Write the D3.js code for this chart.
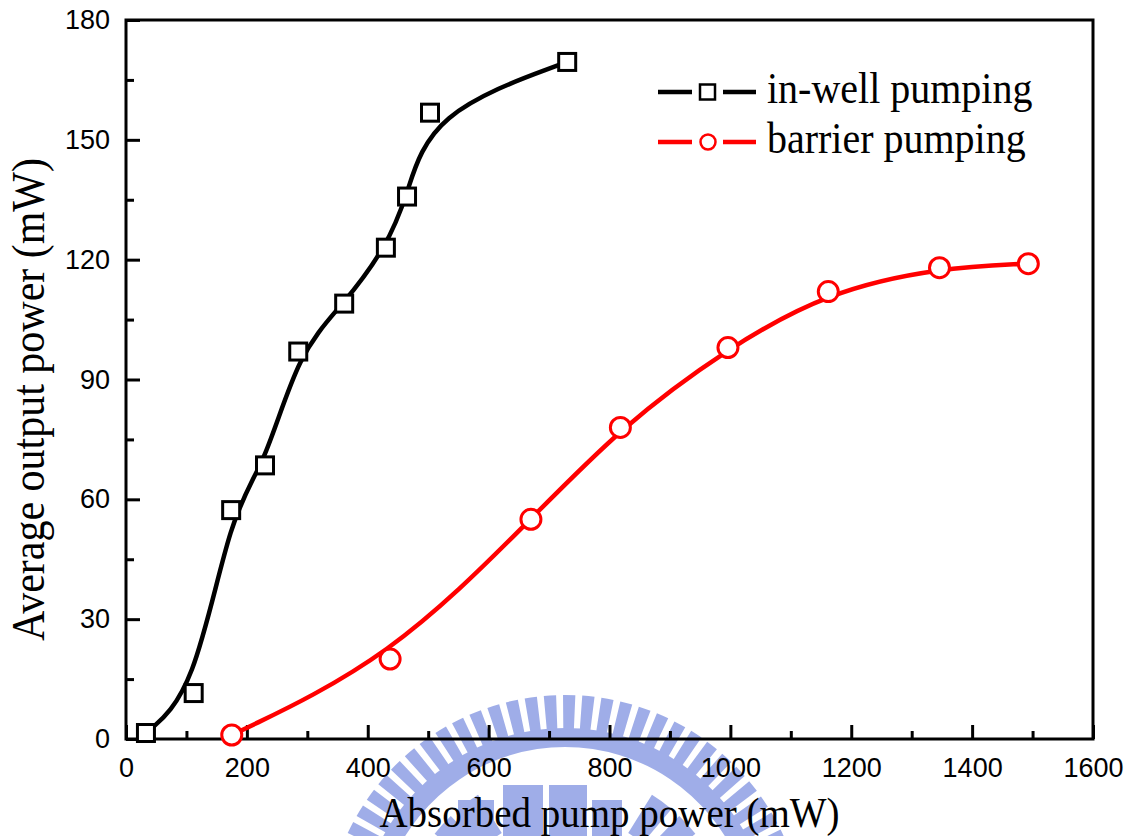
<!DOCTYPE html>
<html>
<head>
<meta charset="utf-8">
<script src="https://cdn.jsdelivr.net/npm/d3@7"></script>
<style>
  html, body { margin: 0; padding: 0; background: #fff; }
  svg { display: block; }
</style>
</head>
<body>
<svg id="chart" width="1133" height="836"></svg>
<script>
// Absorbed pump power (mW) vs. average output power (mW)
const inWellPump   = [33, 112, 174, 230, 285, 361, 430, 465, 503, 730];
const inWellOutput = [1.5, 11.5, 57.3, 68.5, 97, 109, 123, 135.8, 156.8, 169.5];

const barrierPump   = [175, 437, 670, 818, 996, 1162, 1346, 1493];
const barrierOutput = [1, 20, 55, 78, 98, 112, 118, 119];

const seriesNames = ["in-well pumping", "barrier pumping"];
const xTicks = [0, 200, 400, 600, 800, 1000, 1200, 1400, 1600];
const yTicks = [0, 30, 60, 90, 120, 150, 180];
const xMinor = [100, 300, 500, 700, 900, 1100, 1300, 1500];
const yMinor = [15, 45, 75, 105, 135, 165];
const xTitle = "Absorbed pump power (mW)";
const yTitle = "Average output power (mW)";

const svg = d3.select("#chart");
const plotL = 126, plotR = 1093, plotT = 20, plotB = 739;

const x = d3.scaleLinear().domain([0, 1600]).range([plotL, plotR]);
const y = d3.scaleLinear().domain([0, 180]).range([plotB, plotT]);

// faint emblem behind the plot
const emblem = svg.append("g").attr("fill", "#95a5e6").attr("opacity", 0.9);
(function drawEmblem() {
  const cx = 565, cy = 935;
  const rOut = 240, rTeeth = 207, rBand = 188;
  const a0 = -158, a1 = -22, step = 4.6;
  const rad = d => d * Math.PI / 180;
  const arc = d3.arc();
  // solid band
  emblem.append("path")
    .attr("transform", `translate(${cx},${cy})`)
    .attr("d", arc({innerRadius: rBand, outerRadius: rTeeth,
                    startAngle: rad(a0 + 90), endAngle: rad(a1 + 90)}));
  // teeth
  for (let a = a0; a <= a1 + 0.01; a += step) {
    emblem.append("path")
      .attr("transform", `translate(${cx},${cy})`)
      .attr("d", arc({innerRadius: rTeeth - 1, outerRadius: rOut,
                      startAngle: rad(a + 90 - step * 0.32), endAngle: rad(a + 90 + step * 0.32)}));
  }
  // inner ring of broad blocks
  for (let a = -150; a <= -30; a += 12) {
    if (a > -118 && a < -62) continue;
    emblem.append("path")
      .attr("transform", `translate(${cx},${cy})`)
      .attr("d", arc({innerRadius: 120, outerRadius: 165,
                      startAngle: rad(a + 90 - 4.2), endAngle: rad(a + 90 + 4.2)}));
  }
  // central blocks
  [[503, 785, 40, 60], [549, 785, 38, 60], [592, 800, 30, 45], [458, 800, 36, 45]]
    .forEach(([bx, by, bw, bh]) => emblem.append("rect")
      .attr("x", bx).attr("y", by).attr("width", bw).attr("height", bh));
})();

// minor ticks
svg.append("g")
  .attr("transform", `translate(0,${plotB})`)
  .call(d3.axisBottom(x).tickValues(xMinor).tickSizeInner(-8).tickSizeOuter(0).tickFormat(""))
  .call(g => g.select(".domain").remove())
  .call(g => g.selectAll("line").attr("stroke", "#000").attr("stroke-width", 3));
svg.append("g")
  .attr("transform", `translate(${plotL},0)`)
  .call(d3.axisLeft(y).tickValues(yMinor).tickSizeInner(-8).tickSizeOuter(0).tickFormat(""))
  .call(g => g.select(".domain").remove())
  .call(g => g.selectAll("line").attr("stroke", "#000").attr("stroke-width", 3));

// major ticks + labels
const tickFont = "'Liberation Sans', Arial, sans-serif";
svg.append("g")
  .attr("transform", `translate(0,${plotB})`)
  .call(d3.axisBottom(x).tickValues(xTicks).tickSizeInner(-14).tickSizeOuter(0).tickPadding(19).tickFormat(d3.format("d")))
  .call(g => g.select(".domain").remove())
  .call(g => g.selectAll("line").attr("stroke", "#000").attr("stroke-width", 3))
  .call(g => g.selectAll("text").attr("font-family", tickFont).attr("font-size", 27).attr("fill", "#000"));
svg.append("g")
  .attr("transform", `translate(${plotL},0)`)
  .call(d3.axisLeft(y).tickValues(yTicks).tickSizeInner(-14).tickSizeOuter(0).tickPadding(16).tickFormat(d3.format("d")))
  .call(g => g.select(".domain").remove())
  .call(g => g.selectAll("line").attr("stroke", "#000").attr("stroke-width", 3))
  .call(g => g.selectAll("text").attr("font-family", tickFont).attr("font-size", 27).attr("fill", "#000"));

// frame
svg.append("rect")
  .attr("x", plotL).attr("y", plotT)
  .attr("width", plotR - plotL).attr("height", plotB - plotT)
  .attr("fill", "none").attr("stroke", "#000").attr("stroke-width", 3);

// axis titles
const serif = "'Liberation Serif', 'Times New Roman', serif";
svg.append("text")
  .attr("transform", `translate(${(plotL + plotR) / 2},827) scale(1,1.1)`)
  .attr("text-anchor", "middle")
  .attr("font-family", serif).attr("font-size", 39)
  .text(xTitle);
svg.append("text")
  .attr("transform", `translate(44,${(plotT + plotB) / 2 + 20}) rotate(-90) scale(1,1.1)`)
  .attr("text-anchor", "middle")
  .attr("font-family", serif).attr("font-size", 42)
  .text(yTitle);

// curves
const line = d3.line().x(d => x(d[0])).y(d => y(d[1])).curve(d3.curveBasis);
const inWell = inWellPump.map((v, i) => [v, inWellOutput[i]]);
const barrier = barrierPump.map((v, i) => [v, barrierOutput[i]]);

svg.append("path").datum(inWell)
  .attr("d", line).attr("fill", "none").attr("stroke", "#000").attr("stroke-width", 4.5);
svg.append("path").datum(barrier)
  .attr("d", line).attr("fill", "none").attr("stroke", "#ff0000").attr("stroke-width", 4.5);

// markers
const sq = 17;
svg.append("g").selectAll("rect").data(inWell).join("rect")
  .attr("x", d => x(d[0]) - sq / 2).attr("y", d => y(d[1]) - sq / 2)
  .attr("width", sq).attr("height", sq)
  .attr("fill", "#fff").attr("stroke", "#000").attr("stroke-width", 3);
svg.append("g").selectAll("circle").data(barrier).join("circle")
  .attr("cx", d => x(d[0])).attr("cy", d => y(d[1])).attr("r", 10)
  .attr("fill", "#fff").attr("stroke", "#ff0000").attr("stroke-width", 3);

// legend
const legend = svg.append("g");
const legendRows = [
  {name: seriesNames[0], color: "#000", shape: "square", ly: 92},
  {name: seriesNames[1], color: "#ff0000", shape: "circle", ly: 142}
];
legendRows.forEach(r => {
  legend.append("line").attr("x1", 658).attr("x2", 692).attr("y1", r.ly).attr("y2", r.ly)
    .attr("stroke", r.color).attr("stroke-width", 4.5);
  legend.append("line").attr("x1", 723).attr("x2", 756).attr("y1", r.ly).attr("y2", r.ly)
    .attr("stroke", r.color).attr("stroke-width", 4.5);
  if (r.shape === "square") {
    legend.append("rect").attr("x", 700).attr("y", r.ly - 7.5).attr("width", 15).attr("height", 15)
      .attr("fill", "#fff").attr("stroke", r.color).attr("stroke-width", 2.5);
  } else {
    legend.append("circle").attr("cx", 708).attr("cy", r.ly).attr("r", 7.5)
      .attr("fill", "#fff").attr("stroke", r.color).attr("stroke-width", 2.5);
  }
  legend.append("text")
    .attr("transform", `translate(767,${r.ly + 11}) scale(1,1.1)`)
    .attr("font-family", serif).attr("font-size", 40).attr("fill", "#000")
    .text(r.name);
});
</script>
</body>
</html>
